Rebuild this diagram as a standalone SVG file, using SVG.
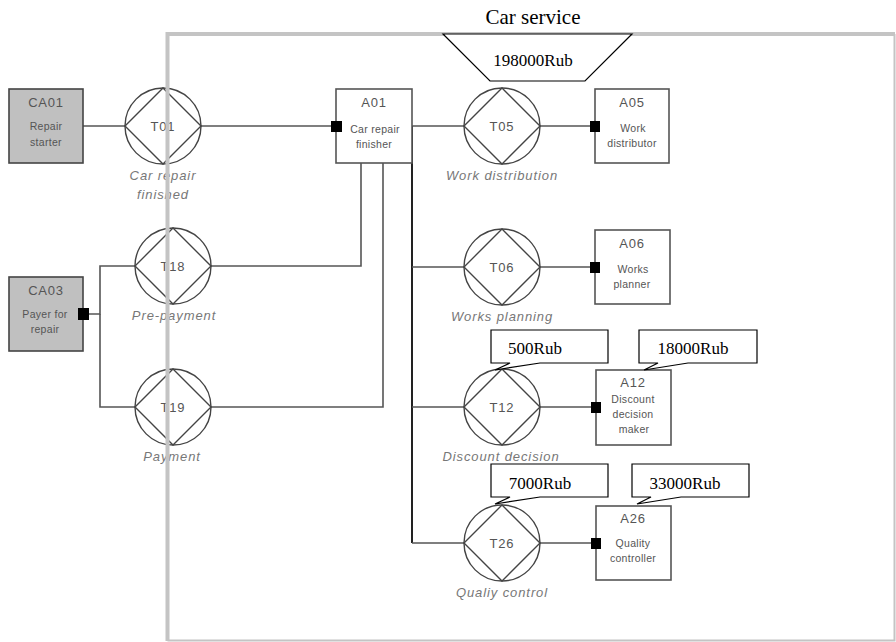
<svg xmlns="http://www.w3.org/2000/svg" width="896" height="642" viewBox="0 0 896 642">
  <style>
    .bound { fill: none; stroke: #c4c4c4; }
    .actor { fill: #ffffff; stroke: #555; stroke-width: 1.6; }
    .ext { fill: #c0c0c0; stroke: #444; stroke-width: 1.6; }
    .tx circle, .tx polygon { fill: none; stroke: #444; stroke-width: 1.4; }
    .wire { fill: none; stroke: #555; stroke-width: 1.6; }
    .wire-dark { fill: none; stroke: #222; stroke-width: 2; }
    .port { fill: #000; }
    .id { font-family: "Liberation Sans", Arial, sans-serif; font-size: 13px; letter-spacing: 0.8px; fill: #555; text-anchor: middle; }
    .name { font-family: "Liberation Sans", Arial, sans-serif; font-size: 10.5px; letter-spacing: 0.3px; fill: #555; text-anchor: middle; }
    .tlabel { font-family: "Liberation Sans", Arial, sans-serif; font-size: 13px; letter-spacing: 0.9px; font-style: italic; fill: #777; text-anchor: middle; }
    .money { font-family: "Liberation Serif", "Times New Roman", serif; font-size: 17px; fill: #000; text-anchor: middle; }
    .callout { fill: #fff; stroke: #000; stroke-width: 1.2; }
  </style>

  <!-- connectors -->
  <g id="connectors">
    <line class="wire" x1="83" y1="126" x2="125" y2="126"/>
    <line class="wire" x1="201" y1="126" x2="336" y2="126"/>
    <line class="wire" x1="412" y1="126" x2="464" y2="126"/>
    <line class="wire" x1="540" y1="126" x2="595" y2="126"/>
    <path class="wire" d="M83,314 H100 V266 H135"/>
    <path class="wire" d="M100,314 V407 H135"/>
    <path class="wire" d="M211,266 H361 V163"/>
    <path class="wire" d="M211,407 H383 V163"/>
    <path class="wire-dark" d="M412,126 V543"/>
    <line class="wire" x1="412" y1="267" x2="464" y2="267"/>
    <line class="wire" x1="540" y1="267" x2="595" y2="267"/>
    <line class="wire" x1="412" y1="407" x2="464" y2="407"/>
    <line class="wire" x1="540" y1="407" x2="596" y2="407"/>
    <line class="wire" x1="412" y1="543" x2="464" y2="543"/>
    <line class="wire" x1="540" y1="543" x2="596" y2="543"/>
  </g>

  <!-- composite actors -->
  <g id="CA01">
    <rect class="ext" x="9" y="89" width="74" height="74"/>
    <text class="id" x="46" y="107">CA01</text>
    <text class="name" x="46" y="130">Repair</text>
    <text class="name" x="46" y="146">starter</text>
  </g>
  <g id="CA03">
    <rect class="ext" x="9" y="277" width="74" height="74"/>
    <text class="id" x="46" y="295">CA03</text>
    <text class="name" x="45" y="318">Payer for</text>
    <text class="name" x="45" y="333">repair</text>
    <rect class="port" x="78" y="308" width="11" height="12"/>
  </g>

  <!-- transactions -->
  <g id="T01" class="tx">
    <circle cx="163" cy="126" r="38"/>
    <polygon points="163,88 201,126 163,164 125,126"/>
    <text class="id" x="163" y="131">T01</text>
    <text class="tlabel" x="163" y="180">Car repair</text>
    <text class="tlabel" x="163" y="199">finished</text>
  </g>
  <g id="T18" class="tx">
    <circle cx="173" cy="266" r="38"/>
    <polygon points="173,228 211,266 173,304 135,266"/>
    <text class="id" x="173" y="271">T18</text>
    <text class="tlabel" x="174" y="320">Pre-payment</text>
  </g>
  <g id="T19" class="tx">
    <circle cx="173" cy="407" r="38"/>
    <polygon points="173,369 211,407 173,445 135,407"/>
    <text class="id" x="173" y="412">T19</text>
    <text class="tlabel" x="172" y="461">Payment</text>
  </g>
  <g id="T05" class="tx">
    <circle cx="502" cy="126" r="38"/>
    <polygon points="502,88 540,126 502,164 464,126"/>
    <text class="id" x="502" y="131">T05</text>
    <text class="tlabel" x="502" y="180">Work distribution</text>
  </g>
  <g id="T06" class="tx">
    <circle cx="502" cy="267" r="38"/>
    <polygon points="502,229 540,267 502,305 464,267"/>
    <text class="id" x="502" y="272">T06</text>
    <text class="tlabel" x="502" y="321">Works planning</text>
  </g>
  <g id="T12" class="tx">
    <circle cx="502" cy="407" r="38"/>
    <polygon points="502,369 540,407 502,445 464,407"/>
    <text class="id" x="502" y="412">T12</text>
    <text class="tlabel" x="501" y="461">Discount decision</text>
  </g>
  <g id="T26" class="tx">
    <circle cx="502" cy="543" r="38"/>
    <polygon points="502,505 540,543 502,581 464,543"/>
    <text class="id" x="502" y="548">T26</text>
    <text class="tlabel" x="502" y="597">Qualiy control</text>
  </g>

  <!-- elementary actors -->
  <g id="A01">
    <rect class="actor" x="336" y="89" width="76" height="74"/>
    <text class="id" x="374" y="107">A01</text>
    <text class="name" x="375" y="133">Car repair</text>
    <text class="name" x="374" y="148">finisher</text>
    <rect class="port" x="331" y="121" width="11" height="11"/>
  </g>
  <g id="A05">
    <rect class="actor" x="595" y="89" width="74" height="74"/>
    <text class="id" x="632" y="107">A05</text>
    <text class="name" x="633" y="132">Work</text>
    <text class="name" x="632" y="147">distributor</text>
    <rect class="port" x="590" y="121" width="10" height="11"/>
  </g>
  <g id="A06">
    <rect class="actor" x="595" y="230" width="75" height="74"/>
    <text class="id" x="632" y="248">A06</text>
    <text class="name" x="633" y="273">Works</text>
    <text class="name" x="632" y="288">planner</text>
    <rect class="port" x="590" y="262" width="10" height="11"/>
  </g>
  <g id="A12">
    <rect class="actor" x="596" y="370" width="75" height="75"/>
    <text class="id" x="633" y="387">A12</text>
    <text class="name" x="633" y="403">Discount</text>
    <text class="name" x="633" y="418">decision</text>
    <text class="name" x="634" y="433">maker</text>
    <rect class="port" x="591" y="402" width="10" height="11"/>
    <!-- costs -->
    <path class="callout" d="M491,330 H608 V363 H540 L495,370 L510,363 H491 Z"/>
    <text class="money" x="535" y="354">500Rub</text>
    <path class="callout" d="M639,330 H757 V363 H688 L644,370 L658,363 H639 Z"/>
    <text class="money" x="693" y="354">18000Rub</text>
  </g>
  <g id="A26">
    <rect class="actor" x="596" y="506" width="75" height="74"/>
    <text class="id" x="633" y="523">A26</text>
    <text class="name" x="633" y="547">Quality</text>
    <text class="name" x="633" y="562">controller</text>
    <rect class="port" x="591" y="538" width="10" height="11"/>
    <!-- costs -->
    <path class="callout" d="M491,464 H608 V497 H540 L495,504 L510,497 H491 Z"/>
    <text class="money" x="540" y="489">7000Rub</text>
    <path class="callout" d="M632,464 H749 V497 H681 L637,504 L651,497 H632 Z"/>
    <text class="money" x="685" y="489">33000Rub</text>
  </g>

  <!-- system boundary, drawn over the nodes it crosses -->
  <g id="boundary">
    <text x="533" y="24" font-family="Liberation Serif, Times New Roman, serif" font-size="21" text-anchor="middle">Car service</text>
    <path class="bound" d="M167.5,641 V34 H895" stroke-width="4"/>
    <path class="bound" d="M894.5,34 V640.5 H167.5" stroke-width="2"/>
    <polygon class="callout" points="443,34 632,34 585,81 490,81"/>
    <text class="money" x="533" y="66">198000Rub</text>
  </g>
</svg>
